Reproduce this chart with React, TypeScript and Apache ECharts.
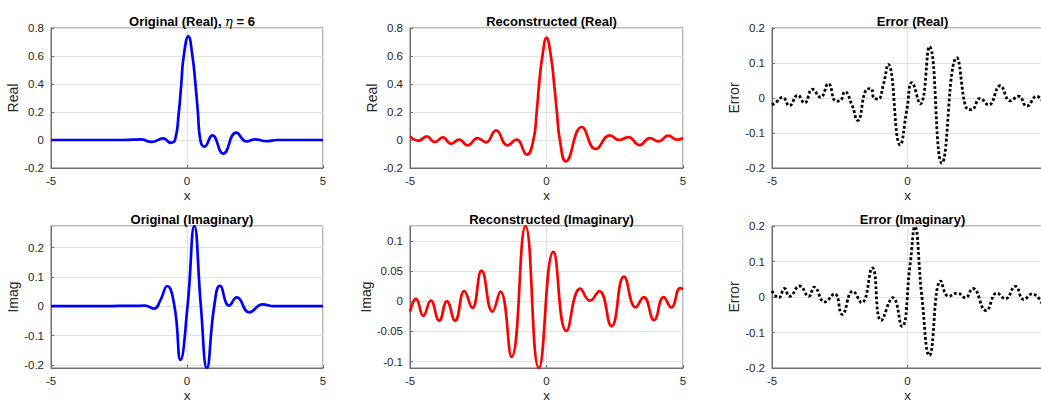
import React, { useEffect, useRef } from 'react';
import * as echarts from 'echarts';

// ---------- data ----------
const xTicks = [-5, 0, 5];

const origRealX = [-5, -4, -3, -2.4, -2.0, -1.7, -1.3, -0.87, -0.6, -0.44, -0.3, -0.21, -0.12, 0.05, 0.2, 0.31, 0.4, 0.49, 0.64, 0.93, 1.33, 1.81, 2.19, 2.5, 2.92, 3.3, 4, 5];
const origRealY = [0, 0, 0, 0, 0.002, 0.004, -0.014, 0.012, -0.02, 0.0, 0.2, 0.4, 0.6, 0.74, 0.6, 0.4, 0.2, 0.0, -0.048, 0.033, -0.097, 0.052, -0.01, 0.005, -0.008, 0, 0, 0];

const reconRealX = [-5, -4.68, -4.39, -4.09, -3.8, -3.5, -3.2, -2.89, -2.52, -2.22, -1.85, -1.43, -1.1, -0.72, -0.48, -0.36, -0.27, -0.15, 0, 0.16, 0.28, 0.38, 0.49, 0.71, 1.29, 1.8, 2.32, 2.66, 3.0, 3.41, 3.79, 4.1, 4.46, 4.79, 5];
const reconRealY = [0.026, -0.005, 0.026, -0.014, 0.019, -0.026, 0.002, -0.038, 0.014, -0.017, 0.069, -0.038, 0.002, -0.105, 0.0, 0.2, 0.4, 0.6, 0.73, 0.6, 0.4, 0.2, 0.0, -0.152, 0.093, -0.064, 0.033, 0.0, 0.021, -0.036, 0.014, -0.01, 0.031, 0.002, 0.014];

const errRealX = [-5.0, -4.82, -4.61, -4.36, -4.05, -3.8, -3.51, -3.21, -2.92, -2.64, -2.49, -2.31, -2.05, -1.84, -1.5, -1.35, -1.23, -1.08, -0.9, -0.71, -0.27, -0.02, 0.16, 0.47, 0.81, 1.27, 1.82, 2.25, 2.37, 2.68, 2.99, 3.42, 3.79, 4.1, 4.4, 4.77, 5.0];
const errRealY = [-0.02, -0.01, 0.002, -0.022, 0.008, -0.014, 0.025, 0.002, 0.041, -0.009, -0.008, 0.018, -0.02, -0.064, 0.025, 0.027, -0.001, -0.003, 0.035, 0.096, -0.134, -0.031, 0.044, -0.017, 0.147, -0.186, 0.115, -0.033, -0.033, -0.001, -0.02, 0.035, -0.008, 0.005, -0.023, 0.005, -0.012];

const origImagX = [-5, -4, -3, -2.5, -2.0, -1.56, -1.2, -0.98, -0.73, -0.46, -0.24, 0.02, 0.27, 0.51, 0.73, 1.0, 1.21, 1.55, 1.83, 2.29, 2.78, 3.2, 4, 5];
const origImagY = [0, 0, 0, 0.001, 0.001, 0.002, -0.008, 0.02, 0.069, 0.0, -0.183, 0.0, 0.274, 0.0, -0.211, 0.0, 0.07, 0.002, 0.03, -0.021, 0.006, 0.0, 0, 0];

const reconImagX = [-5, -4.78, -4.51, -4.24, -3.93, -3.65, -3.35, -3.01, -2.72, -2.38, -1.98, -1.69, -1.28, -0.77, -0.28, 0.25, 0.73, 1.24, 1.59, 1.93, 2.38, 2.84, 3.27, 3.56, 3.94, 4.29, 4.57, 4.9, 5];
const reconImagY = [-0.017, 0.004, -0.024, 0.001, -0.032, 0.0, -0.032, 0.017, -0.011, 0.051, -0.017, 0.016, -0.092, 0.1249, -0.1106, 0.082, -0.049, 0.021, 0.001, 0.017, -0.041, 0.041, -0.01, 0.007, -0.031, 0.007, -0.01, 0.022, 0.02];

const errImagX = [-5.0, -4.75, -4.54, -4.35, -3.98, -3.64, -3.44, -3.06, -2.69, -2.41, -2.02, -1.69, -1.3, -0.97, -0.54, -0.21, 0.1, 0.27, 0.53, 0.81, 1.23, 1.52, 1.85, 2.13, 2.41, 2.9, 3.3, 3.61, 3.98, 4.29, 4.6, 5.0];
const errImagY = [0.017, -0.002, 0.024, 0.002, 0.031, 0.002, 0.028, -0.014, 0.009, -0.049, 0.016, -0.016, 0.082, -0.066, -0.002, -0.083, 0.094, 0.198, 0.0, -0.165, 0.045, 0.002, 0.011, -0.002, 0.024, -0.038, 0.011, -0.005, 0.03, -0.007, 0.009, -0.024];

const titles = ['Original (Real), η = 6', 'Reconstructed (Real)', 'Error (Real)', 'Original (Imaginary)', 'Reconstructed (Imaginary)', 'Error (Imaginary)'];
const yNames = ['Real', 'Real', 'Error', 'Imag', 'Imag', 'Error'];

// ---------- styling ----------
const FONT = '"Liberation Sans", Arial, Helvetica, sans-serif';
const AXIS_COLOR = '#6e6e6e';
const GRID_COLOR = '#e2e2e2';
const TEXT_COLOR = '#262626';

const pairs = (xs: number[], ys: number[]) => xs.map((x, i) => [x, ys[i]]);

interface Panel {
  xs: number[]; ys: number[];
  ymin: number; ymax: number; interval?: number;
  color: string; dotted: boolean;
  box: [number, number, number, number];
  hideMaxX: boolean;
}

const panels: Panel[] = [
  { xs: origRealX, ys: origRealY, ymin: -0.2, ymax: 0.8, interval: 0.2, color: '#0000ff', dotted: false, box: [51, 28, 272, 140], hideMaxX: false },
  { xs: reconRealX, ys: reconRealY, ymin: -0.2, ymax: 0.8, interval: 0.2, color: '#ff0000', dotted: false, box: [410, 28, 273, 140], hideMaxX: false },
  { xs: errRealX, ys: errRealY, ymin: -0.2, ymax: 0.2, interval: 0.1, color: '#000000', dotted: true, box: [772, 28, 271, 140], hideMaxX: true },
  { xs: origImagX, ys: origImagY, ymin: -0.211, ymax: 0.274, color: '#0000ff', dotted: false, box: [51, 226, 272, 142], hideMaxX: false },
  { xs: reconImagX, ys: reconImagY, ymin: -0.1106, ymax: 0.1249, color: '#ff0000', dotted: false, box: [410, 226, 273, 142], hideMaxX: false },
  { xs: errImagX, ys: errImagY, ymin: -0.2, ymax: 0.2, interval: 0.1, color: '#000000', dotted: true, box: [772, 226, 271, 142], hideMaxX: true },
];

function buildOption() {
  const grid: any[] = [];
  const xAxis: any[] = [];
  const yAxis: any[] = [];
  const series: any[] = [];
  const title: any[] = [];

  panels.forEach((p, i) => {
    const [left, top, width, height] = p.box;
    grid.push({
      left, top, width, height,
      show: true, borderColor: AXIS_COLOR, borderWidth: 1,
      containLabel: false, outerBoundsMode: 'none',
    });
    xAxis.push({
      type: 'value', gridIndex: i,
      min: xTicks[0], max: xTicks[xTicks.length - 1], interval: xTicks[1] - xTicks[0],
      name: 'x', nameLocation: 'middle', nameGap: 20,
      nameTextStyle: { color: TEXT_COLOR, fontSize: 13.5, fontFamily: FONT },
      axisLine: { show: true, onZero: false, lineStyle: { color: AXIS_COLOR, width: 1 } },
      axisTick: { show: true, inside: true, length: 3, lineStyle: { color: AXIS_COLOR } },
      axisLabel: { color: TEXT_COLOR, fontSize: 11.5, fontFamily: FONT, margin: 7, showMaxLabel: !p.hideMaxX, showMinLabel: true, hideOverlap: false },
      splitLine: { show: true, lineStyle: { color: GRID_COLOR, width: 1 } },
    });
    const fixed = p.interval !== undefined;
    yAxis.push({
      type: 'value', gridIndex: i,
      min: p.ymin, max: p.ymax,
      ...(fixed ? { interval: p.interval } : { splitNumber: 5 }),
      name: yNames[i], nameLocation: 'middle', nameGap: 30,
      nameTextStyle: { color: TEXT_COLOR, fontSize: 14, fontFamily: FONT },
      axisLine: { show: true, onZero: false, lineStyle: { color: AXIS_COLOR, width: 1 } },
      axisTick: { show: true, inside: true, length: 3, lineStyle: { color: AXIS_COLOR } },
      axisLabel: { color: TEXT_COLOR, fontSize: 11.5, fontFamily: FONT, margin: 7, showMinLabel: fixed, showMaxLabel: fixed, hideOverlap: false },
      splitLine: { show: true, lineStyle: { color: GRID_COLOR, width: 1 } },
    });
    series.push({
      type: 'line', xAxisIndex: i, yAxisIndex: i,
      data: pairs(p.xs, p.ys),
      showSymbol: false, symbol: 'none', smooth: 0.5,
      lineStyle: p.dotted
        ? { color: p.color, width: 2.8, type: [2.8, 2.2], cap: 'butt' }
        : { color: p.color, width: 2.7 },
      z: 3,
    });
    const rich = {
      b: { fontWeight: 'bold', fontSize: 13, fontFamily: FONT, color: '#000' },
      e: { fontStyle: 'italic', fontWeight: 'normal', fontSize: 13, fontFamily: '"DejaVu Serif", serif', color: '#000' },
    };
    const text = i === 0 ? '{b|Original (Real), }{e|η}{b| = 6}' : `{b|${titles[i]}}`;
    title.push({
      text,
      left: left + width / 2,
      top: top - 18,
      textAlign: 'center',
      textStyle: { rich, fontFamily: FONT, fontSize: 13, fontWeight: 'bold', color: '#000' },
    });
  });

  return {
    animation: false,
    backgroundColor: '#ffffff',
    textStyle: { fontFamily: FONT },
    title, grid, xAxis, yAxis, series,
  };
}

export default function App() {
  const ref = useRef<HTMLDivElement>(null);
  useEffect(() => {
    if (!ref.current) return;
    const chart = echarts.init(ref.current, null, { renderer: 'svg' });
    chart.setOption(buildOption() as any);
    return () => chart.dispose();
  }, []);
  return (
    <div
      ref={ref}
      style={{ position: 'fixed', left: 0, top: 0, width: 1041, height: 401, background: '#fff' }}
    />
  );
}
